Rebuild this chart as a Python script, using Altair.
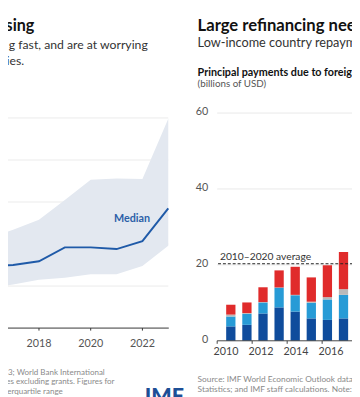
import altair as alt
import pandas as pd

FONT = "Lato"

# ---------------- data ----------------
# Left panel: median and interquartile band (visible years only)
left_years = [2016, 2017, 2018, 2019, 2020, 2021, 2022, 2023]
left_median = [14.8, 15.0, 15.9, 19.2, 19.2, 18.8, 20.7, 28.5]
left_p25 = [9.3, 10.4, 11.5, 12.0, 12.8, 12.8, 14.8, 19.6]
left_p75 = [21.2, 23.4, 25.8, 30.5, 35.3, 35.6, 35.5, 49.8]
left_grid = [10, 20, 30, 40, 50]
left_tick_years = [2018, 2020, 2022]

# Right panel: principal payments due to foreign creditors (billions of USD)
bar_years = [2010, 2011, 2012, 2013, 2014, 2015, 2016, 2017]
series_names = ["dark", "light", "gray", "red"]
series_colors = ["#0f4c9c", "#279bd6", "#b9b9b9", "#e02b2b"]
dark_vals = [3.8, 4.2, 7.2, 8.8, 7.7, 5.9, 5.5, 5.9]
light_vals = [2.6, 2.9, 2.9, 5.2, 4.3, 4.1, 5.4, 6.2]
gray_vals = [0.5, 0.2, 0.1, 0.05, 0.1, 0.3, 0.6, 1.5]
red_vals = [2.6, 2.8, 3.9, 4.5, 7.4, 6.4, 8.4, 9.8]
right_grid = [20, 40, 60]
right_ylabels = [0, 20, 40, 60]
right_xlabels = [2010, 2012, 2014, 2016]
right_tick_pos = [2009.5, 2011.5, 2013.5, 2015.5, 2017.5]
avg_2010_2020 = 20.3

# ---------------- scales ----------------
xL = alt.Scale(domain=[2016.5, 2023], range=[-8, 164], nice=False, zero=False)
yL = alt.Scale(domain=[0, 50], range=[323, 108], nice=False, zero=False)
xR = alt.Scale(domain=[2010, 2017], range=[223, 348.3], nice=False, zero=False)
yR = alt.Scale(domain=[0, 60], range=[336, 103], nice=False, zero=False)

# ---------------- left panel ----------------
ldf = pd.DataFrame({"year": left_years, "median": left_median,
                    "lo": left_p25, "hi": left_p75})
lgrid = pd.DataFrame({"v": left_grid, "x0": 2016.0, "x1": 2023.0})

left_grid_layer = alt.Chart(lgrid).mark_rule(color="#ebebeb", strokeWidth=1).encode(
    x=alt.X("x0:Q", scale=xL, axis=None), x2="x1:Q",
    y=alt.Y("v:Q", scale=yL, axis=None))

band = alt.Chart(ldf).mark_area(color="#e3e8f0", opacity=1).encode(
    x=alt.X("year:Q", scale=xL, axis=None),
    y=alt.Y("lo:Q", scale=yL, axis=None), y2="hi:Q")

median_line = alt.Chart(ldf).mark_line(color="#1f5aa8", strokeWidth=2).encode(
    x=alt.X("year:Q", scale=xL, axis=None),
    y=alt.Y("median:Q", scale=yL, axis=None))

laxis = pd.DataFrame({"v": [0], "x0": [2016.0], "x1": [2023.02]})
left_axis = alt.Chart(laxis).mark_rule(color="#333333", strokeWidth=1).encode(
    x=alt.X("x0:Q", scale=xL, axis=None), x2="x1:Q",
    y=alt.Y("v:Q", scale=yL, axis=None))

lticks = pd.DataFrame({"year": left_tick_years, "y0": 0.0, "y1": -0.6})
left_ticks = alt.Chart(lticks).mark_rule(color="#333333", strokeWidth=1).encode(
    x=alt.X("year:Q", scale=xL, axis=None),
    y=alt.Y("y0:Q", scale=yL, axis=None), y2="y1:Q")

llabels = pd.DataFrame({"year": left_tick_years, "lab": [str(y) for y in left_tick_years]})
left_labels = alt.Chart(llabels).mark_text(font=FONT, fontSize=11, color="#555555",
                                           baseline="alphabetic", align="center").encode(
    x=alt.X("year:Q", scale=xL, axis=None), y=alt.value(342), text="lab:N")

median_label = alt.Chart(pd.DataFrame({"x": [2021.6], "y": [25.9], "t": ["Median"]})).mark_text(
    font=FONT, fontSize=11, fontWeight="bold", color="#2b5fa8", baseline="middle").encode(
    x=alt.X("x:Q", scale=xL, axis=None), y=alt.Y("y:Q", scale=yL, axis=None), text="t:N")

# ---------------- right panel ----------------
rows = []
for i, y in enumerate(bar_years):
    for k, (name, vals) in enumerate(zip(series_names,
                                         [dark_vals, light_vals, gray_vals, red_vals])):
        rows.append({"year": y, "series": name, "value": vals[i], "ord": k})
rdf = pd.DataFrame(rows)

rgrid = pd.DataFrame({"v": right_grid, "x0": 2009.5, "x1": 2018.0})
right_grid_layer = alt.Chart(rgrid).mark_rule(color="#e8e8e8", strokeWidth=1).encode(
    x=alt.X("x0:Q", scale=xR, axis=None), x2="x1:Q",
    y=alt.Y("v:Q", scale=yR, axis=None))

bars = alt.Chart(rdf).mark_bar(size=9.5).encode(
    x=alt.X("year:Q", scale=xR, axis=None),
    y=alt.Y("value:Q", scale=yR, axis=None, stack="zero"),
    color=alt.Color("series:N", scale=alt.Scale(domain=series_names, range=series_colors),
                    legend=None),
    order=alt.Order("ord:Q"))

raxis = pd.DataFrame({"v": [0], "x0": [2009.5], "x1": [2018.0]})
right_axis = alt.Chart(raxis).mark_rule(color="#444444", strokeWidth=1).encode(
    x=alt.X("x0:Q", scale=xR, axis=None), x2="x1:Q",
    y=alt.Y("v:Q", scale=yR, axis=None))

rticks = pd.DataFrame({"year": right_tick_pos, "y0": 0.0, "y1": -0.8})
right_ticks = alt.Chart(rticks).mark_rule(color="#444444", strokeWidth=1).encode(
    x=alt.X("year:Q", scale=xR, axis=None),
    y=alt.Y("y0:Q", scale=yR, axis=None), y2="y1:Q")

rxl = pd.DataFrame({"year": right_xlabels, "lab": [str(y) for y in right_xlabels]})
right_xlabels_layer = alt.Chart(rxl).mark_text(font=FONT, fontSize=11, color="#444444",
                                               baseline="alphabetic", align="center").encode(
    x=alt.X("year:Q", scale=xR, axis=None), y=alt.value(351), text="lab:N")

ryl = pd.DataFrame({"v": right_ylabels, "lab": [str(v) for v in right_ylabels]})
right_ylabels_layer = alt.Chart(ryl).mark_text(font=FONT, fontSize=11, color="#555555",
                                               baseline="middle", align="right", dy=-1).encode(
    x=alt.value(205), y=alt.Y("v:Q", scale=yR, axis=None), text="lab:N")

avg = pd.DataFrame({"v": [avg_2010_2020], "x0": [2009.55], "x1": [2018.0]})
avg_line = alt.Chart(avg).mark_rule(color="#222222", strokeWidth=1, strokeDash=[3, 2]).encode(
    x=alt.X("x0:Q", scale=xR, axis=None), x2="x1:Q",
    y=alt.Y("v:Q", scale=yR, axis=None))

avg_label = alt.Chart(pd.DataFrame({"x": [2009.66], "y": [21.2], "t": ["2010–2020 average"]})).mark_text(
    font=FONT, fontSize=10.5, color="#333333", align="left", baseline="alphabetic").encode(
    x=alt.X("x:Q", scale=xR, axis=None), y=alt.Y("y:Q", scale=yR, axis=None), text="t:N")


# ---------------- headings / notes ----------------
def label(text, x, y, size, color="#222222", weight="normal", align="left"):
    return alt.Chart(pd.DataFrame({"t": [text]})).mark_text(
        font=FONT, fontSize=size, fontWeight=weight, color=color,
        align=align, baseline="alphabetic").encode(
        x=alt.value(x), y=alt.value(y), text="t:N")


texts = [
    label("asing", 27, 19, 16.5, "#111111", "bold", "right"),
    label("g fast, and are at worrying", 143, 37.5, 12.5, "#333333", "normal", "right"),
    label("ries.", 16.5, 53.5, 12.5, "#333333", "normal", "right"),
    label("Large refinancing nee", 194, 18.5, 17, "#111111", "bold"),
    label("Low-income country repaym", 194, 35.5, 13, "#333333"),
    label("Principal payments due to foreig", 194, 65, 11, "#111111", "bold"),
    label("(billions of USD)", 194, 76, 10, "#555555"),
    label("2023; World Bank International", 99, 370.5, 8.2, "#8a8a8a", "normal", "right"),
    label("es excluding grants. Figures for", 109, 380.5, 8.2, "#8a8a8a", "normal", "right"),
    label("interquartile range", 56, 390.5, 8.2, "#8a8a8a", "normal", "right"),
    label("Source: IMF World Economic Outlook datab", 194, 378.5, 8.5, "#8a8a8a"),
    label("Statistics; and IMF staff calculations. Note: Fi", 194, 388, 8.5, "#8a8a8a"),
    label("IMF", 140, 400, 22, "#1d4f96", 900),
]

layers = [left_grid_layer, band, median_line, left_axis, left_ticks, left_labels, median_label,
          right_grid_layer, bars, right_axis, right_ticks, right_xlabels_layer,
          right_ylabels_layer, avg_line, avg_label] + texts

chart = alt.layer(*layers).resolve_scale(
    x="independent", y="independent", color="independent"
).properties(
    width=352, height=389, padding=0,
    autosize=alt.AutoSizeParams(type="none"),
    background="white",
).configure_view(strokeWidth=0)

chart.save("out.html", embed_options={"renderer": "svg", "actions": False})
